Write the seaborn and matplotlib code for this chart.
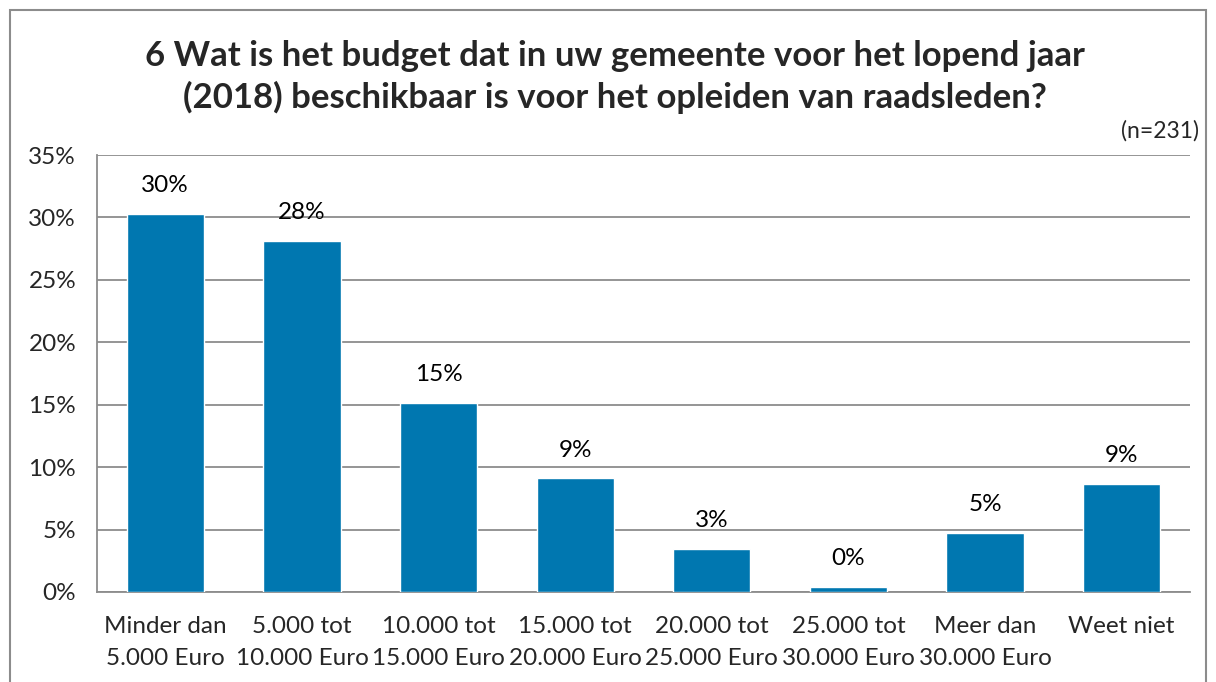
import matplotlib
matplotlib.use("Agg")
import matplotlib.pyplot as plt
import matplotlib.patches as mpatches
import seaborn as sns
import pandas as pd

# === DATA ===
categories = ["Minder dan\n5.000 Euro", "5.000 tot\n10.000 Euro", "10.000 tot\n15.000 Euro",
              "15.000 tot\n20.000 Euro", "20.000 tot\n25.000 Euro", "25.000 tot\n30.000 Euro",
              "Meer dan\n30.000 Euro", "Weet niet"]
counts = [70, 65, 35, 21, 8, 1, 11, 20]
n_total = 231
yticks = [0, 5, 10, 15, 20, 25, 30, 35]

title = "6 Wat is het budget dat in uw gemeente voor het lopend jaar\n(2018) beschikbaar is voor het opleiden van raadsleden?"

df = pd.DataFrame({"cat": categories, "pct": [c / n_total * 100 for c in counts]})

sns.set_style("white")
plt.rcParams['font.family'] = ['Lato', 'DejaVu Sans']

fig = plt.figure(figsize=(12.16, 6.82), dpi=100)
ax = fig.add_axes([97 / 1216, 90 / 682, (1190 - 97) / 1216, (592 - 155) / 682])

sns.barplot(data=df, x="cat", y="pct", color="#0077B0", saturation=1, width=0.565, ax=ax, zorder=3)

# value labels
for i, v in enumerate(df["pct"]):
    ax.text(i, v + 1.4, f"{v:.0f}%", ha="center", va="bottom", fontsize=17.5, color="black")

ax.set_ylim(0, 35)
ax.set_xlim(-0.5, len(categories) - 0.5)
ax.set_yticks(yticks)
ax.set_yticklabels([f"{t}%" for t in yticks], fontsize=17.5)
ax.set_xticks(range(len(categories)))
ax.set_xticklabels(categories, fontsize=17.5, linespacing=1.65, va="top")
ax.set_xlabel("")
ax.set_ylabel("")

ax.yaxis.grid(True, color="#8c8c8c", linewidth=1.3, zorder=0)
ax.set_axisbelow(True)
for s in ["top", "right"]:
    ax.spines[s].set_visible(False)
for s in ["left", "bottom"]:
    ax.spines[s].set_color("#8c8c8c")
    ax.spines[s].set_linewidth(1.3)

# y ticks outward, x ticks between categories
ax.tick_params(axis="y", direction="out", length=7, width=1.3, color="#8c8c8c", pad=8)
ax.tick_params(axis="x", which="major", length=0, pad=17)
ax.set_xticks([i + 0.5 for i in range(-1, len(categories))], minor=True)
ax.tick_params(axis="x", which="minor", direction="out", length=7, width=1.3, color="#8c8c8c")

fig.text(615 / 1216, 1 - 77 / 682, title, ha="center", va="center", fontsize=25,
         fontweight="bold", linespacing=1.33)
fig.text(1199 / 1216, 1 - 131 / 682, f"(n={n_total})", ha="right", va="center", fontsize=16.5)

# chart border
border = mpatches.Rectangle((10 / 1216, -0.05), (1206 - 10) / 1216, 1.05 - 10 / 682,
                            transform=fig.transFigure, fill=False, edgecolor="#8c8c8c",
                            linewidth=1.5)
fig.patches.append(border)

fig.savefig("out.png", dpi=100)
